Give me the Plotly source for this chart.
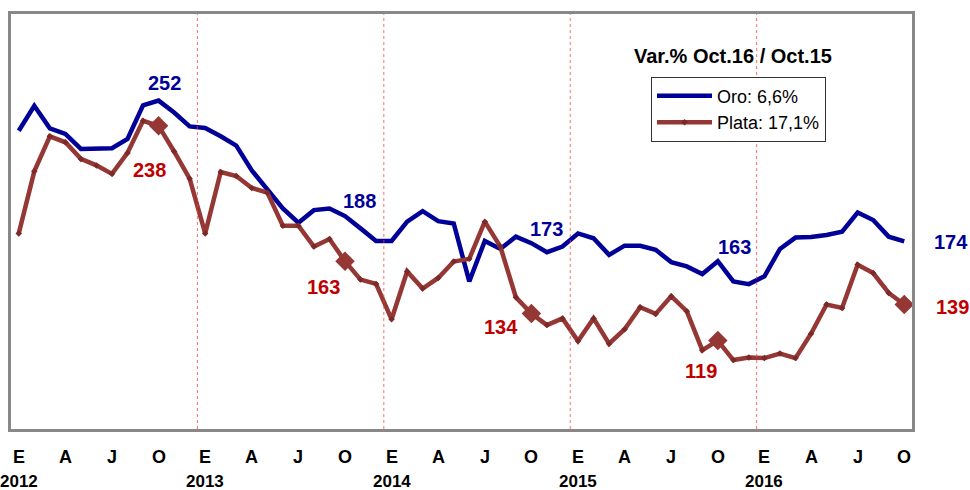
import plotly.graph_objects as go

# ---- Data (monthly, Jan 2012 - Oct 2016) ----
years = [2012, 2013, 2014, 2015, 2016]
month_letters = ["E", "F", "M", "A", "M", "J", "J", "A", "S", "O", "N", "D"]

oro = [235.3, 249.1, 236.6, 233.5, 225.2, 225.2, 225.6, 230.7, 249.4, 252, 245.4, 237.7,
       236.8, 232.2, 227.1, 213.3, 202.3, 192.2, 184.3, 191.3, 192.2, 188, 181.2, 174.2,
       174.2, 184.9, 190.7, 185.2, 183.9, 151.8, 174.2, 169.8, 176.6, 173, 168.0, 171.1,
       178.4, 175.7, 166.5, 171.6, 171.5, 169.3, 162.5, 160.1, 155.9, 163, 151.8, 150.3,
       154.6, 169.8, 176.1, 176.4, 177.5, 179.4, 190.0, 185.8, 176.6, 174]

plata = [178.4, 212.8, 232.2, 228.9, 219.7, 216.1, 211.4, 223.0, 240.8, 238, 223.8, 208.7,
         178.4, 212.4, 210.2, 203.6, 201.0, 182.7, 182.7, 171.1, 175.3, 163, 152.8, 150.4,
         130.8, 157.3, 147.8, 153.7, 162.8, 164.3, 184.9, 171.1, 143.0, 134, 127.6, 131.3,
         118.8, 131.3, 117.3, 125.3, 137.5, 133.8, 143.6, 135.3, 113.7, 119, 108.2, 109.6,
         109.3, 111.8, 109.3, 122.8, 139.0, 137.1, 161.0, 156.4, 145.4, 139]

legend_names = ["Oro: 6,6%", "Plata: 17,1%"]
legend_title = "Var.% Oct.16 / Oct.15"
highlight_idx = [9, 21, 33, 45, 57]  # October of each year

BLUE = "#000099"
PLATA = "#953735"
RED_TXT = "#C00000"
FONT = "Arial, Liberation Sans"

n = len(oro)
x = list(range(n))

fig = go.Figure()

fig.add_trace(go.Scatter(
    x=x, y=oro, mode="lines", name=legend_names[0],
    line=dict(color=BLUE, width=4.5),
))
fig.add_trace(go.Scatter(
    x=x, y=plata, mode="lines+markers", name=legend_names[1],
    line=dict(color=PLATA, width=4.5),
    marker=dict(symbol="diamond", size=5, color="#7a2a28"),
))
fig.add_trace(go.Scatter(
    x=[x[i] for i in highlight_idx], y=[plata[i] for i in highlight_idx],
    mode="markers", showlegend=False,
    marker=dict(symbol="diamond", size=15, color=PLATA),
))

# Year separators (dotted red) at category boundaries before each January
for k in range(1, len(years)):
    fig.add_vline(x=12 * k - 0.5, line=dict(color="rgba(255,60,60,0.75)", width=1, dash="dot"))

# Value labels
label_offsets_oro = [(6, 18), (15, 15), (15, 14), (17, 14), (47, -1)]
label_offsets_plata = [(-9, -44), (-21, -26), (-30, -13), (-17, -30), (48, -2)]
anns = []
for (i, (dx, dy)) in zip(highlight_idx, label_offsets_oro):
    anns.append(dict(x=x[i], y=oro[i], xref="x", yref="y", text=f"{round(oro[i])}",
                     showarrow=False, xshift=dx, yshift=dy,
                     font=dict(family=FONT, size=20, color=BLUE, weight="bold")))
for (i, (dx, dy)) in zip(highlight_idx, label_offsets_plata):
    anns.append(dict(x=x[i], y=plata[i], xref="x", yref="y", text=f"{round(plata[i])}",
                     showarrow=False, xshift=dx, yshift=dy,
                     font=dict(family=FONT, size=20, color=RED_TXT, weight="bold")))

# Month letter ticks (every 3 months) and year labels
for i in range(0, n, 3):
    anns.append(dict(x=i, y=-0.067, xref="x", yref="paper", text=month_letters[i % 12],
                     showarrow=False, yanchor="middle",
                     font=dict(family=FONT, size=18, color="black", weight="bold")))
for k, yr in enumerate(years):
    anns.append(dict(x=12 * k, y=-0.127, xref="x", yref="paper", text=str(yr),
                     showarrow=False, yanchor="middle",
                     font=dict(family=FONT, size=17, color="black", weight="bold")))

# Legend title
anns.append(dict(x=(733 - 11) / 901, y=(429 - 53) / 418, xref="paper", yref="paper",
                 xanchor="center", yanchor="middle", text=legend_title, showarrow=False,
                 font=dict(family=FONT, size=20, color="black", weight="bold")))

fig.update_layout(
    width=970, height=490,
    margin=dict(l=11, r=58, t=11, b=61),
    paper_bgcolor="white", plot_bgcolor="white",
    annotations=anns,
    showlegend=True,
    legend=dict(
        x=(651 - 11) / 901, y=(429 - 74) / 418, xanchor="left", yanchor="top",
        bgcolor="white", bordercolor="#333333", borderwidth=1,
        font=dict(family=FONT, size=18, color="black"),
        itemwidth=55, tracegroupgap=4,
    ),
    xaxis=dict(range=[-0.5, n - 0.5], showgrid=False, zeroline=False, showticklabels=False,
               ticks="", showline=True, mirror=True, linecolor="#888888", linewidth=3),
    yaxis=dict(range=[70, 300], showgrid=False, zeroline=False, showticklabels=False,
               ticks="", showline=True, mirror=True, linecolor="#888888", linewidth=3),
)

fig.write_html("out.html", config={"displayModeBar": False},
               post_script="document.body.style.margin='0';")
